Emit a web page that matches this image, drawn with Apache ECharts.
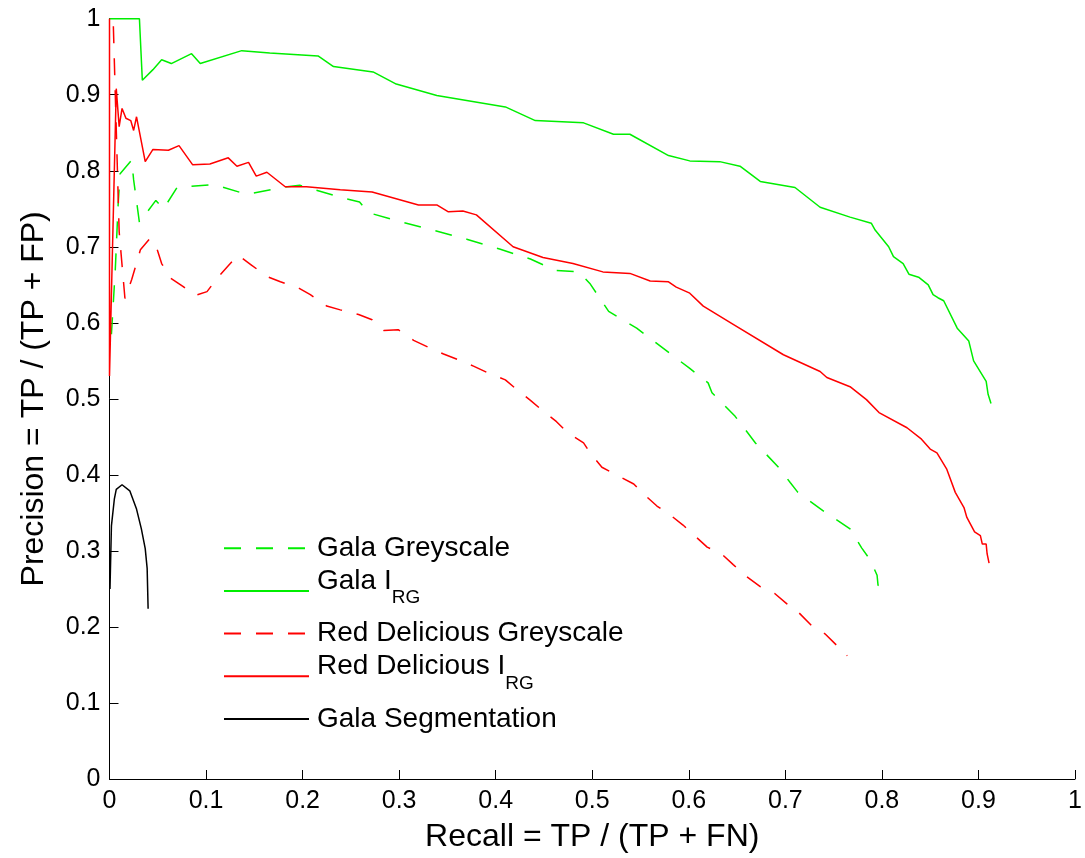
<!DOCTYPE html>
<html>
<head>
<meta charset="utf-8">
<script src="https://cdn.jsdelivr.net/npm/echarts@6/dist/echarts.min.js"></script>
<style>
html,body{margin:0;padding:0;background:#fff;}
#chart{width:1085px;height:858px;}
</style>
</head>
<body>
<div id="chart"></div>
<script>
// ---- data ----
const xTicks = [0, 0.1, 0.2, 0.3, 0.4, 0.5, 0.6, 0.7, 0.8, 0.9, 1];
const yTicks = [0, 0.1, 0.2, 0.3, 0.4, 0.5, 0.6, 0.7, 0.8, 0.9, 1];

const galaGreyX = [0.002,0.006,0.009,0.011,0.023,0.025,0.031,0.048,0.056,0.070,0.108,0.142,0.184,0.197,0.242,0.259,0.268,0.301,0.335,0.370,0.404,0.436,0.453,0.461,0.486,0.498,0.517,0.546,0.574,0.601,0.620,0.624,0.648,0.669,0.693,0.705,0.713,0.741,0.767,0.779,0.788,0.795,0.796,0.800];
const galaGreyY = [0.585,0.670,0.757,0.796,0.814,0.788,0.732,0.761,0.750,0.778,0.782,0.769,0.779,0.781,0.764,0.759,0.745,0.733,0.722,0.710,0.697,0.684,0.674,0.669,0.667,0.651,0.615,0.593,0.566,0.540,0.521,0.508,0.477,0.442,0.410,0.390,0.377,0.351,0.329,0.304,0.288,0.268,0.255,0.251];

const galaIrgX = [0,0.031,0.034,0.045,0.054,0.064,0.085,0.094,0.137,0.166,0.216,0.232,0.273,0.297,0.339,0.410,0.441,0.491,0.522,0.539,0.579,0.601,0.632,0.653,0.674,0.710,0.736,0.767,0.789,0.793,0.807,0.812,0.822,0.828,0.838,0.848,0.853,0.858,0.864,0.878,0.890,0.895,0.908,0.910,0.913];
const galaIrgY = [1.0,1.0,0.919,0.933,0.946,0.941,0.954,0.941,0.958,0.955,0.951,0.937,0.930,0.914,0.899,0.884,0.866,0.863,0.848,0.848,0.820,0.813,0.812,0.806,0.786,0.778,0.752,0.739,0.731,0.722,0.700,0.687,0.678,0.664,0.660,0.650,0.637,0.633,0.629,0.593,0.576,0.550,0.523,0.506,0.494];

const redGreyX = [0.004,0.010,0.016,0.023,0.032,0.042,0.049,0.054,0.063,0.076,0.089,0.101,0.113,0.123,0.133,0.147,0.163,0.177,0.197,0.208,0.225,0.239,0.258,0.272,0.284,0.299,0.315,0.330,0.346,0.360,0.377,0.394,0.410,0.422,0.436,0.449,0.463,0.474,0.491,0.499,0.510,0.525,0.543,0.553,0.567,0.581,0.594,0.619,0.634,0.646,0.660,0.674,0.689,0.701,0.707,0.713,0.727,0.741,0.753,0.758,0.764];
const redGreyY = [0.990,0.720,0.632,0.657,0.696,0.711,0.698,0.678,0.659,0.648,0.636,0.641,0.661,0.675,0.689,0.676,0.661,0.654,0.645,0.637,0.622,0.617,0.611,0.604,0.590,0.591,0.577,0.568,0.559,0.552,0.543,0.533,0.525,0.512,0.498,0.484,0.470,0.456,0.442,0.427,0.410,0.400,0.388,0.375,0.359,0.347,0.334,0.305,0.296,0.282,0.266,0.253,0.244,0.231,0.224,0.220,0.202,0.191,0.176,0.172,0.162];

const redIrgX = [0,0,0.007,0.010,0.013,0.017,0.022,0.025,0.028,0.037,0.045,0.061,0.072,0.086,0.104,0.123,0.132,0.144,0.152,0.163,0.182,0.204,0.239,0.272,0.320,0.339,0.351,0.366,0.380,0.418,0.449,0.480,0.511,0.539,0.560,0.579,0.587,0.601,0.615,0.646,0.698,0.736,0.743,0.767,0.784,0.797,0.826,0.841,0.850,0.857,0.867,0.876,0.885,0.888,0.896,0.902,0.904,0.908,0.909,0.911];
const redIrgY = [1.0,0.530,0.908,0.858,0.882,0.869,0.866,0.853,0.871,0.812,0.828,0.827,0.833,0.808,0.809,0.817,0.806,0.811,0.793,0.798,0.779,0.779,0.775,0.772,0.755,0.755,0.746,0.747,0.742,0.700,0.686,0.678,0.667,0.665,0.655,0.654,0.647,0.639,0.622,0.598,0.558,0.536,0.528,0.516,0.499,0.482,0.462,0.447,0.434,0.429,0.408,0.377,0.357,0.344,0.325,0.320,0.309,0.309,0.296,0.284];

const galaSegX = [0.0005,0.002,0.005,0.007,0.013,0.021,0.028,0.033,0.037,0.039,0.040];
const galaSegY = [0.250,0.333,0.368,0.381,0.387,0.379,0.355,0.329,0.303,0.277,0.224];

const seriesNames = ['Gala Greyscale','Gala IRG','Red Delicious Greyscale','Red Delicious IRG','Gala Segmentation'];
const legendLabels = {
  'Gala Greyscale': '{p|Gala Greyscale}',
  'Gala IRG': '{n|Gala I}{s|RG}',
  'Red Delicious Greyscale': '{p|Red Delicious Greyscale}',
  'Red Delicious IRG': '{n|Red Delicious I}{s|RG}',
  'Gala Segmentation': '{p|Gala Segmentation}'
};

function pairs(xs, ys){ return xs.map((x,i)=>[x, ys[i]]); }

const GREEN = '#00ee00';
const RED = '#ff0000';
const DASH = [17, 15];

function mk(name, xs, ys, color, dashed){
  return {
    name: name,
    type: 'line',
    data: pairs(xs, ys),
    symbol: 'none',
    smooth: false,
    animation: false,
    lineStyle: { color: color, width: 1.5, type: dashed ? DASH : 'solid' },
    itemStyle: { color: color }
  };
}

const chart = echarts.init(document.getElementById('chart'), null, {renderer:'canvas'});
const FONT = 'Liberation Sans, Arial, sans-serif';

chart.setOption({
  backgroundColor: '#ffffff',
  animation: false,
  grid: { left: 109.5, right: 10, top: 18.7, bottom: 77, containLabel: false },
  xAxis: {
    type: 'value', min: 0, max: 1, interval: 0.1,
    name: 'Recall = TP / (TP + FN)', nameLocation: 'middle', nameGap: 42,
    nameTextStyle: { fontSize: 32, color: '#000', fontFamily: FONT },
    axisLine: { show: true, lineStyle: { color: '#000', width: 1 } },
    axisTick: { show: true, inside: true, length: 9, lineStyle: { color: '#000' } },
    axisLabel: { fontSize: 25, color: '#000', fontFamily: FONT, margin: 10,
      formatter: v => { const t = xTicks.find(a => Math.abs(a - v) < 1e-9); return String(t !== undefined ? t : v); } },
    splitLine: { show: false }
  },
  yAxis: {
    type: 'value', min: 0, max: 1, interval: 0.1,
    name: 'Precision = TP / (TP + FP)', nameLocation: 'middle', nameGap: 59,
    nameTextStyle: { fontSize: 32, color: '#000', fontFamily: FONT },
    axisLine: { show: true, lineStyle: { color: '#000', width: 1 } },
    axisTick: { show: true, inside: true, length: 9, lineStyle: { color: '#000' } },
    axisLabel: { fontSize: 25, color: '#000', fontFamily: FONT, margin: 9,
      formatter: v => { const t = yTicks.find(a => Math.abs(a - v) < 1e-9); return String(t !== undefined ? t : v); } },
    splitLine: { show: false }
  },
  legend: {
    data: seriesNames,
    orient: 'vertical',
    left: 223, top: 533,
    itemWidth: 85, itemHeight: 38, itemGap: 3.5,
    padding: 0,
    itemStyle: { opacity: 0 },
    formatter: name => legendLabels[name],
    textStyle: {
      color: '#000', fontFamily: FONT,
      rich: {
        p: { fontSize: 28, color: '#000', fontFamily: FONT, lineHeight: 38, padding: [0, 0, 0, 3] },
        n: { fontSize: 28, color: '#000', fontFamily: FONT, lineHeight: 18, padding: [0, 0, 20, 3] },
        s: { fontSize: 19, color: '#000', fontFamily: FONT, lineHeight: 14, padding: [19, 0, 5, 0] }
      }
    }
  },
  series: [
    mk('Gala Greyscale', galaGreyX, galaGreyY, GREEN, true),
    mk('Gala IRG', galaIrgX, galaIrgY, GREEN, false),
    mk('Red Delicious Greyscale', redGreyX, redGreyY, RED, true),
    mk('Red Delicious IRG', redIrgX, redIrgY, RED, false),
    mk('Gala Segmentation', galaSegX, galaSegY, '#000000', false)
  ]
});
</script>
</body>
</html>
